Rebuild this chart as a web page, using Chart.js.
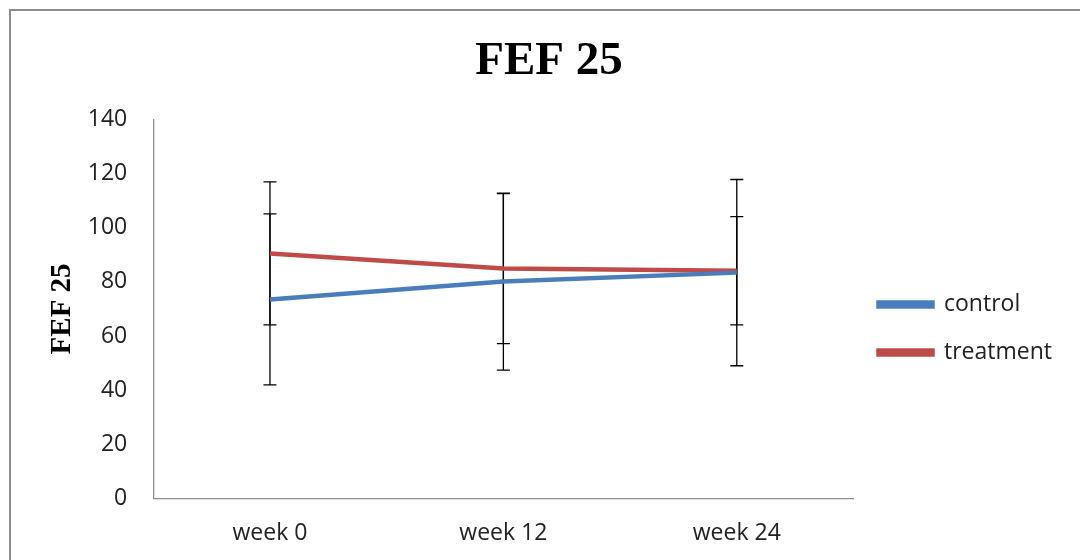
<!DOCTYPE html>
<html>
<head>
<meta charset="utf-8">
<script src="https://cdn.jsdelivr.net/npm/chart.js@4"></script>
<style>
  html, body { margin: 0; padding: 0; background: #fff; overflow: hidden; }
  #wrap { position: relative; width: 1080px; height: 560px; }
  #frame { position: absolute; left: 9px; top: 9px; width: 2000px; height: 2000px;
           border-left: 2px solid #8c8c8c; border-top: 2px solid #8c8c8c; }
  canvas { position: absolute; left: 0; top: 0; }
</style>
</head>
<body>
<div id="wrap">
  <div id="frame"></div>
  <canvas id="myChart" width="1080" height="560"></canvas>
</div>
<script>
// data
const weeks = ['week 0', 'week 12', 'week 24'];
const control = [73.5, 80.1, 83.4];
const controlErr = [31.6, 32.7, 34.4];
const treatment = [90.5, 84.9, 84.1];
const treatmentErr = [26.4, 27.7, 20.0];
const yTicks = [0, 20, 40, 60, 80, 100, 120, 140];

const sans = 'Open Sans';
const serif = 'Liberation Serif';

// draws the +/- error bars under the lines
const errorBars = {
    id: 'errorBars',
    beforeDatasetsDraw(chart) {
        const ctx = chart.ctx;
        const x = chart.scales.x;
        const y = chart.scales.y;
        ctx.save();
        ctx.strokeStyle = '#000';
        ctx.lineWidth = 1.3;
        chart.data.datasets.forEach(ds => {
            ds.data.forEach((v, i) => {
                const px = x.getPixelForValue(i);
                const top = y.getPixelForValue(v + ds.err[i]);
                const bot = y.getPixelForValue(v - ds.err[i]);
                ctx.beginPath();
                ctx.moveTo(px, top); ctx.lineTo(px, bot);
                ctx.moveTo(px - 6.5, top); ctx.lineTo(px + 6.5, top);
                ctx.moveTo(px - 6.5, bot); ctx.lineTo(px + 6.5, bot);
                ctx.stroke();
            });
        });
        ctx.restore();
    }
};

let data = {
    labels: weeks,
    datasets: [{
        label: 'control',
        data: control,
        err: controlErr,
        borderColor: '#4a7ebb',
        backgroundColor: '#4a7ebb',
        borderWidth: 4.5,
        pointRadius: 0,
        tension: 0
    },
    {
        label: 'treatment',
        data: treatment,
        err: treatmentErr,
        borderColor: '#be4b48',
        backgroundColor: '#be4b48',
        borderWidth: 4.5,
        pointRadius: 0,
        tension: 0
    }]
};

let config = {
    type: 'line',
    data,
    plugins: [errorBars],
    options: {
        responsive: false,
        animation: false,
        layout: { padding: { left: 36, right: 18, top: 0, bottom: -8 } },
        plugins: {
            title: {
                display: true,
                text: 'FEF 25',
                color: '#000',
                font: { family: serif, size: 47, weight: 'bold' },
                padding: { top: 34, bottom: 29 }
            },
            legend: {
                position: 'right',
                title: {
                    // empty title only used to push the items down
                    display: true,
                    text: ' ',
                    font: { size: 10 },
                    padding: { top: 77, bottom: 0 }
                },
                labels: {
                    boxWidth: 54,
                    boxHeight: 4,
                    padding: 25,
                    color: '#222',
                    font: { family: sans, size: 23 }
                }
            },
            tooltip: { enabled: false }
        },
        scales: {
            x: {
                offset: true,
                grid: { display: true, drawOnChartArea: false, drawTicks: false, color: 'transparent' },
                border: { display: true, color: '#8c8c8c', width: 1.3 },
                ticks: { padding: 21, color: '#222', font: { family: sans, size: 23 } }
            },
            y: {
                min: 0,
                max: 140,
                afterBuildTicks: axis => { axis.ticks = yTicks.map(v => ({ value: v })); },
                grid: { display: true, drawOnChartArea: false, drawTicks: false, color: 'transparent' },
                border: { display: true, color: '#8c8c8c', width: 1.3 },
                ticks: { padding: 26, color: '#222', font: { family: sans, size: 23 } },
                title: {
                    display: true,
                    text: 'FEF 25',
                    color: '#000',
                    font: { family: serif, size: 29, weight: 'bold' },
                    padding: { top: 9, bottom: -18 }
                }
            }
        }
    }
};

let myChart = new Chart(document.getElementById('myChart'), config);
</script>
</body>
</html>
